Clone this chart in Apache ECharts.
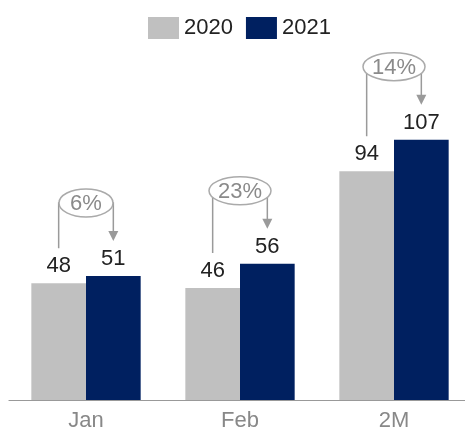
<!DOCTYPE html>
<html>
<head>
<meta charset="utf-8">
<script src="https://cdn.jsdelivr.net/npm/echarts@6/dist/echarts.min.js"></script>
<style>html,body{margin:0;padding:0;background:#fff}#c{width:465px;height:432px}</style>
</head>
<body>
<div id="c"></div>
<script>
var categories = ['Jan', 'Feb', '2M'];
var values2020 = [48, 46, 94];
var values2021 = [51, 56, 107];
var changeLabels = ['6%', '23%', '14%'];

var GAP = 0.29;
var FONT = '"Liberation Sans", Arial, sans-serif';
var chart = echarts.init(document.getElementById('c'));

var bracketData = categories.map(function (c, i) {
  return [i, values2020[i], values2021[i]];
});

chart.setOption({
  animation: false,
  textStyle: { fontFamily: FONT },
  legend: {
    top: 12,
    left: 143,
    itemWidth: 31,
    itemHeight: 22,
    itemGap: 13,
    icon: 'rect',
    textStyle: { fontSize: 22, color: '#222', fontFamily: FONT },
    data: ['2020', '2021']
  },
  grid: { left: 9, width: 462, top: 108, bottom: 32, outerBoundsMode: 'none', containLabel: false },
  xAxis: {
    type: 'category',
    data: categories,
    axisTick: { show: false },
    axisLine: { lineStyle: { color: '#999', width: 1.2 } },
    axisLabel: { color: '#888', fontSize: 22, margin: 10, fontFamily: FONT }
  },
  yAxis: { type: 'value', min: 0, max: 120, show: false, splitLine: { show: false } },
  series: [
    {
      name: '2020', type: 'bar', data: values2020,
      barGap: '0%', barCategoryGap: (GAP * 100) + '%',
      itemStyle: { color: '#c0c0c0' },
      label: { show: true, position: 'top', distance: 6, fontSize: 22, color: '#222', fontFamily: FONT }
    },
    {
      name: '2021', type: 'bar', data: values2021,
      barGap: '0%', barCategoryGap: (GAP * 100) + '%',
      itemStyle: { color: '#002060' },
      label: { show: true, position: 'top', distance: 6, fontSize: 22, color: '#222', fontFamily: FONT }
    },
    {
      type: 'custom',
      data: bracketData,
      z: 10,
      silent: true,
      renderItem: function (params, api) {
        var i = api.value(0);
        var v1 = api.value(1), v2 = api.value(2);
        var cx = api.coord([i, 0])[0];
        var bw = api.size([1, 0])[0] * (1 - GAP) / 2;
        var xL = cx - bw / 2, xR = cx + bw / 2;
        var yL = api.coord([i, v1])[1];
        var yR = api.coord([i, v2])[1];
        var yTop = Math.min(yL, yR) - 73;
        var yStart = yL - 35;
        var yTip = yR - 35;
        var txt = changeLabels[params.dataIndex];
        var rx = 19 + 4 * txt.length, ry = 14;
        var lineStyle = { stroke: '#9a9a9a', lineWidth: 1.5, fill: null };
        return {
          type: 'group',
          children: [
            { type: 'polyline', shape: { points: [[xL, yStart], [xL, yTop], [xR, yTop], [xR, yTip - 9]] }, style: lineStyle },
            { type: 'polygon', shape: { points: [[xR - 5, yTip - 10], [xR + 5, yTip - 10], [xR, yTip]] }, style: { fill: '#9a9a9a' } },
            { type: 'ellipse', shape: { cx: cx, cy: yTop, rx: rx, ry: ry }, style: { fill: '#fff', stroke: '#aaa', lineWidth: 1.5 } },
            { type: 'text', x: cx, y: yTop + 1, style: { text: txt, fill: '#8a8a8a', font: '22px ' + FONT, textAlign: 'center', textVerticalAlign: 'middle' } }
          ]
        };
      }
    }
  ]
});
</script>
</body>
</html>
